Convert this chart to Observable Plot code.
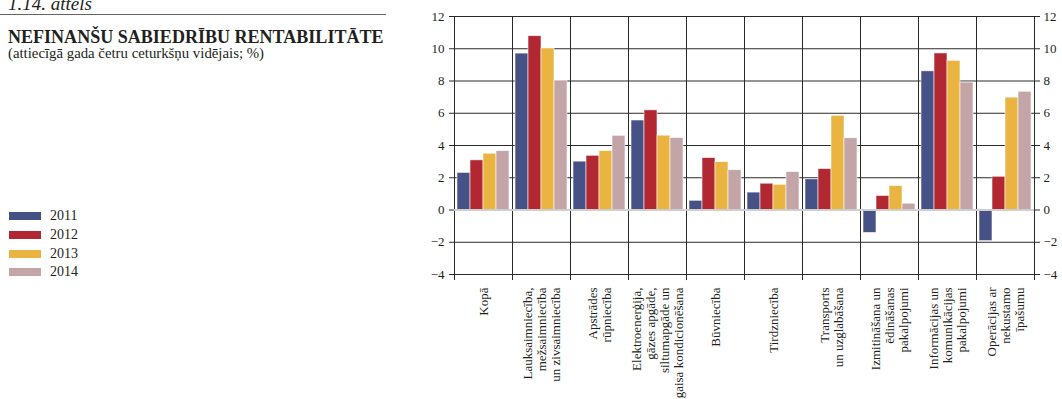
<!DOCTYPE html>
<html><head><meta charset="utf-8">
<script src="https://cdn.jsdelivr.net/npm/d3@7"></script>
<script src="https://cdn.jsdelivr.net/npm/@observablehq/plot@0.6"></script>
<style>
body{margin:0;background:#fff;font-family:"Liberation Serif","Times New Roman",serif;color:#231f20;}
#wrap{position:relative;width:1062px;height:399px;overflow:hidden;background:#fff;}
#chart{position:absolute;left:0;top:0;}
#chart svg, #chart svg text{font-family:"Liberation Serif","Times New Roman",serif !important;}
.fig{position:absolute;left:8px;top:-6px;font-size:19px;line-height:19px;font-style:italic;white-space:nowrap;}
.hr{position:absolute;left:0;top:14px;width:386px;height:0;border-top:1.5px solid #666;}
.title{position:absolute;left:8px;top:27px;font-size:19.5px;line-height:19.5px;font-weight:bold;white-space:nowrap;transform:scaleX(0.925);transform-origin:0 0;}
.sub{position:absolute;left:8px;top:46px;font-size:14.8px;line-height:14.8px;white-space:nowrap;}
#legend{position:absolute;left:9px;top:207px;}
.li{display:flex;align-items:center;height:18.7px;font-size:14px;}
.sw{width:32px;height:8px;margin-right:9px;}
</style></head><body>
<div id="wrap">
<div id="chart"></div>
<div class="fig">1.14. attēls</div>
<div class="hr"></div>
<div class="title">NEFINANŠU SABIEDRĪBU RENTABILITĀTE</div>
<div class="sub">(attiecīgā gada četru ceturkšņu vidējais; %)</div>
<div id="legend"></div>
</div>
<script>
const categories = [
  "Kopā",
  "Lauksaimniecība,\nmežsaimniecība\nun zivsaimniecība",
  "Apstrādes\nrūpniecība",
  "Elektroenerģija,\ngāzes apgāde,\nsiltumapgāde un\ngaisa kondicionēšana",
  "Būvniecība",
  "Tirdzniecība",
  "Transports\nun uzglabāšana",
  "Izmitināšana un\nēdināšanas\npakalpojumi",
  "Informācijas un\nkomunikācijas\npakalpojumi",
  "Operācijas ar\nnekustamo\nīpašumu"
];
const years = ["2011", "2012", "2013", "2014"];
const v2011 = [2.3, 9.7, 3.0, 5.55, 0.57, 1.08, 1.9, -1.42, 8.6, -1.93];
const v2012 = [3.08, 10.78, 3.36, 6.18, 3.22, 1.63, 2.54, 0.87, 9.71, 2.06];
const v2013 = [3.49, 10.02, 3.65, 4.61, 2.97, 1.56, 5.84, 1.48, 9.25, 6.97];
const v2014 = [3.65, 8.02, 4.6, 4.46, 2.47, 2.35, 4.45, 0.39, 7.9, 7.33];
const colors = ["#465186", "#b12833", "#e9b43f", "#c4a5a7"];
const yTicks = [-4, -2, 0, 2, 4, 6, 8, 10, 12];

const series = [v2011, v2012, v2013, v2014];
const data = [];
categories.forEach((c, i) => years.forEach((y, j) => data.push({cat: c, year: y, value: series[j][i]})));
const labels = categories.map(c => ({cat: c, label: c}));
const serif = "Liberation Serif, Times New Roman, serif";

const chart = Plot.plot({
  width: 1062, height: 399,
  marginLeft: 451, marginRight: 26, marginTop: 16, marginBottom: 125,
  style: "font-family: 'Liberation Serif', serif; font-size: 13px; color: #231f20; background: white;",
  fx: {domain: categories, padding: 0, axis: null},
  x: {domain: years, paddingInner: 0, paddingOuter: 0.22, axis: null},
  y: {domain: [-4, 12], axis: null},
  color: {domain: years, range: colors},
  marks: [
    Plot.gridY(yTicks, {stroke: "#2a2a2a", strokeOpacity: 1}),
    Plot.frame({anchor: "left", stroke: "#2a2a2a", insetBottom: -5}),
    Plot.frame({anchor: "right", stroke: "#2a2a2a", insetBottom: -5}),
    Plot.barY(data, {fx: "cat", x: "year", y: "value", fill: "year", stroke: "white", strokeOpacity: 0.7, strokeWidth: 0.8}),
    Plot.ruleY([0], {stroke: "#cfcfcf", strokeWidth: 2}),
    Plot.axisY(yTicks, {anchor: "left", tickSize: 5, tickPadding: 5, stroke: "#2a2a2a", label: null, fontSize: 13}),
    Plot.axisY(yTicks, {anchor: "right", tickSize: 5, tickPadding: 4, stroke: "#2a2a2a", label: null, fontSize: 13}),
    Plot.text(labels, {fx: "cat", text: "label", frameAnchor: "bottom", rotate: -90, textAnchor: "end", lineAnchor: "middle", dy: 13, fontSize: 13, lineHeight: 1.08, fill: "#231f20", fontFamily: serif})
  ]
});
document.getElementById("chart").appendChild(chart);

const legend = document.getElementById("legend");
years.forEach((y, i) => {
  const row = document.createElement("div");
  row.className = "li";
  const sw = document.createElement("div");
  sw.className = "sw";
  sw.style.background = colors[i];
  const t = document.createElement("span");
  t.textContent = y;
  row.appendChild(sw); row.appendChild(t);
  legend.appendChild(row);
});
</script>
</body></html>
